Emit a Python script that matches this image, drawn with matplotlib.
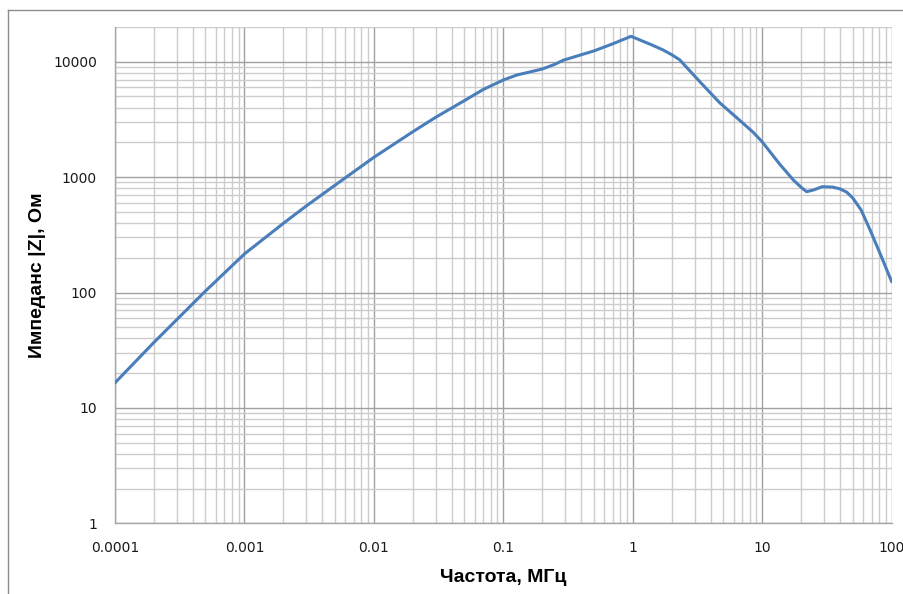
import matplotlib
matplotlib.use("Agg")
import matplotlib.pyplot as plt
from matplotlib.lines import Line2D
from matplotlib.ticker import FixedLocator, FixedFormatter, LogLocator, NullFormatter

# frequency, MHz
freq = [0.0001, 0.0002, 0.0005, 0.001, 0.002, 0.003, 0.005, 0.01, 0.02, 0.03,
        0.05, 0.07, 0.1, 0.127, 0.16, 0.2, 0.25, 0.29, 0.4, 0.5, 0.7, 0.97,
        1.4, 1.7, 2.0, 2.3, 3.3, 4.7, 6.5, 8.5, 10, 13.6, 17.4, 20, 22, 25,
        29, 35, 40, 45, 50, 58, 68, 81, 100]
# impedance |Z|, Ohm
imp = [16.5, 37, 103, 216, 398, 562, 850, 1485, 2475, 3300,
       4600, 5750, 6950, 7670, 8150, 8650, 9500, 10300, 11500, 12400, 14300, 16600,
       14000, 12700, 11500, 10400, 6700, 4400, 3200, 2450, 2020, 1300, 944, 815, 748, 775,
       826, 820, 790, 740, 660, 520, 350, 220, 124]

x_ticks = [0.0001, 0.001, 0.01, 0.1, 1, 10, 100]
x_labels = ["0.0001", "0.001", "0.01", "0.1", "1", "10", "100"]
y_ticks = [1, 10, 100, 1000, 10000]
y_labels = ["1", "10", "100", "1000", "10000"]

fig = plt.figure(figsize=(9.04, 5.94), dpi=100)
ax = fig.add_axes([115 / 904, 1 - 523.3 / 594, 776.7 / 904, 496.3 / 594])

ax.plot(freq, imp, color="#4a7ebb", lw=2.2, solid_capstyle="round",
        solid_joinstyle="round", zorder=3)

ax.set_xscale("log")
ax.set_yscale("log")
ax.set_xlim(0.0001, 100)
ax.set_ylim(1, 20000)

ax.xaxis.set_major_locator(FixedLocator(x_ticks))
ax.xaxis.set_major_formatter(FixedFormatter(x_labels))
ax.yaxis.set_major_locator(FixedLocator(y_ticks))
ax.yaxis.set_major_formatter(FixedFormatter(y_labels))
ax.xaxis.set_minor_locator(LogLocator(base=10, subs=range(2, 10), numticks=20))
ax.yaxis.set_minor_locator(LogLocator(base=10, subs=range(2, 10), numticks=20))
ax.xaxis.set_minor_formatter(NullFormatter())
ax.yaxis.set_minor_formatter(NullFormatter())

ax.grid(which="major", color="#a0a0a0", lw=1.0)
ax.grid(which="minor", color="#cccccc", lw=1.0)
ax.set_axisbelow(True)

ax.tick_params(which="both", length=0, labelsize=10, colors="#1a1a1a")
ax.tick_params(axis="x", pad=12.5)
ax.tick_params(axis="y", pad=13)

for s in ["top", "right"]:
    ax.spines[s].set_visible(False)
for s in ["left", "bottom"]:
    ax.spines[s].set_color("#a6a6a6")
    ax.spines[s].set_linewidth(1.0)

ax.set_xlabel("Частота, МГц", fontsize=14, fontweight="bold",
              family="Liberation Sans")
ax.set_ylabel("Импеданс |Z|, Ом", fontsize=14, fontweight="bold",
              family="Liberation Sans")
ax.xaxis.set_label_coords((503 - 115) / 776.7, (523.3 - 578) / 496.3)
ax.yaxis.set_label_coords((38 - 115) / 776.7, 0.5)
ax.xaxis.label.set_va("center")
ax.yaxis.label.set_va("center")

# outer chart border (left and top visible)
fig.add_artist(Line2D([8 / 904, 8 / 904], [0, 1 - 10 / 594],
                      transform=fig.transFigure, color="#8c8c8c", lw=1))
fig.add_artist(Line2D([8 / 904, 1], [1 - 10 / 594, 1 - 10 / 594],
                      transform=fig.transFigure, color="#8c8c8c", lw=1))

fig.savefig("out.png", dpi=100)
